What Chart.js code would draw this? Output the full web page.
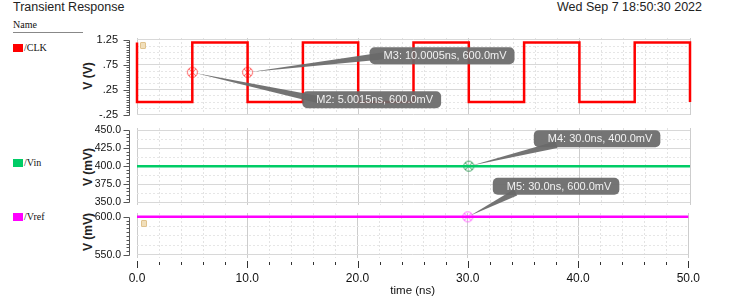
<!DOCTYPE html>
<html>
<head>
<meta charset="utf-8">
<script src="https://cdn.jsdelivr.net/npm/chart.js@4/dist/chart.umd.min.js"></script>
<style>
body { margin: 0; width: 729px; height: 301px; background: #fff; position: relative; overflow: hidden;
       font-family: "Liberation Sans", Arial, sans-serif; color: #222; }
.abs { position: absolute; white-space: nowrap; }
#title { left: 13px; top: 0px; font-size: 12.5px; }
#date { right: 27px; top: 0px; font-size: 12.5px; }
.legend { font-family: "Liberation Serif", "DejaVu Serif", serif; font-size: 10px; color: #111; line-height: 12px; }
.sw { display: inline-block; width: 10px; height: 8px; margin-right: 1px; vertical-align: -1px; }
#nameLine { left: 13px; top: 32px; width: 70px; height: 1px; background: #888; }
.ytitle { transform: translate(-50%, -50%) rotate(-90deg); font-weight: bold; font-size: 12px; }
.lock { width: 4px; height: 5px; background: #f1dfbb; border: 1px solid #e0c38e; border-radius: 1px; }
canvas { position: absolute; }
</style>
</head>
<body>
<div class="abs" id="title">Transient Response</div>
<div class="abs" id="date">Wed Sep 7 18:50:30 2022</div>
<div class="abs legend" style="left:13px;top:19px">Name</div>
<div class="abs" id="nameLine"></div>
<div class="abs legend" style="left:13px;top:42px"><span class="sw" style="background:#ff0000"></span>/CLK</div>
<div class="abs legend" style="left:13px;top:157px"><span class="sw" style="background:#00cc66"></span>/Vin</div>
<div class="abs legend" style="left:13px;top:211px"><span class="sw" style="background:#ff00ff"></span>/Vref</div>
<div class="abs ytitle" style="left:88px;top:76px">V (V)</div>
<div class="abs ytitle" style="left:88px;top:167px">V (mV)</div>
<div class="abs ytitle" style="left:88px;top:232px">V (mV)</div>

<canvas id="clkChart" width="620" height="92" style="left:80px;top:30px"></canvas>
<canvas id="vinChart" width="620" height="92" style="left:80px;top:120px"></canvas>
<canvas id="vrefChart" width="620" height="131" style="left:80px;top:170px"></canvas>
<div class="abs lock" style="left:140px;top:42px"></div>
<div class="abs lock" style="left:141px;top:220px"></div>

<script>
// time axis (ns)
const timeTicks = [0, 10, 20, 30, 40, 50];

// /CLK (V)
const clkTime = [0, 0, 5, 5, 10, 10, 15, 15, 20, 20, 25, 25, 30, 30, 35, 35, 40, 40, 45, 45, 50, 50];
const clkVolt = [1.2, 0, 0, 1.2, 1.2, 0, 0, 1.2, 1.2, 0, 0, 1.2, 1.2, 0, 0, 1.2, 1.2, 0, 0, 1.2, 1.2, 0];
const clkTicks = [-0.25, 0.25, 0.75, 1.25];

// /Vin (mV)
const vinTime = [0, 50];
const vinMv = [400, 400];
const vinTicks = [350, 375, 400, 425, 450];

// /Vref (mV)
const vrefTime = [0, 50];
const vrefMv = [600, 600];
const vrefTicks = [550, 600];

// markers
const markerNames = ['M2', 'M3', 'M4', 'M5'];
const markerTrace = ['CLK', 'CLK', 'Vin', 'Vref'];
const markerTimes = [5.0015, 10.0005, 30.0, 30.0];
const markerMv = [600.0, 600.0, 400.0, 600.0];

// callout box placement relative to the marker: dx, dy, anchor fraction in box
const calloutPos = {
    M2: { dx: 110, dy: 19, ax: 0.12, ay: 0.5 },
    M3: { dx: 122, dy: -25, ax: 0.10, ay: 0.5 },
    M4: { dx: 65, dy: -36, ax: 0.18, ay: 0.85 },
    M5: { dx: 25, dy: -39, ax: 0.18, ay: 0.85 }
};

const near = (v, list) => list.some(t => Math.abs(t - v) < 1e-6);

function range(from, to, step) {
    const out = [];
    for (let i = 0; from + i * step <= to + 1e-9; i++) out.push(+(from + i * step).toFixed(6));
    return out;
}

function markerIcon(color) {
    const c = document.createElement('canvas');
    c.width = 13; c.height = 13;
    const g = c.getContext('2d');
    g.strokeStyle = color; g.lineWidth = 1;
    g.beginPath(); g.arc(6.5, 6.5, 5, 0, Math.PI * 2); g.stroke();
    g.beginPath();
    g.moveTo(3, 3); g.lineTo(10, 10);
    g.moveTo(10, 3); g.lineTo(3, 10);
    g.stroke();
    return c;
}

function fmtTime(t) {
    return Number.isInteger(t) ? t.toFixed(1) : String(t);
}

// minor tick marks left of the plot and under the time axis
const tickMarks = {
    id: 'tickMarks',
    afterDraw(chart, args, opts) {
        const { ctx, chartArea, scales } = chart;
        const y = scales.y;
        ctx.save();
        ctx.strokeStyle = '#555';
        ctx.lineWidth = 1;
        ctx.beginPath();
        const xl = chartArea.left - 7.5;
        ctx.moveTo(xl, Math.round(y.getPixelForValue(opts.yFrom)) + 0.5);
        ctx.lineTo(xl, Math.round(y.getPixelForValue(opts.yTo)) + 0.5);
        range(opts.yFrom, opts.yTo, opts.yMinor).forEach(v => {
            const p = Math.round(y.getPixelForValue(v)) + 0.5;
            const len = near(v, opts.yLabels) ? 6 : 3;
            ctx.moveTo(xl - len, p);
            ctx.lineTo(xl, p);
        });
        ctx.stroke();
        if (opts.xTicks) {
            const x = scales.x;
            ctx.strokeStyle = '#333';
            ctx.beginPath();
            range(0, 50, 2).forEach(v => {
                const p = Math.round(x.getPixelForValue(v)) + 0.5;
                const major = near(v, timeTicks);
                ctx.moveTo(p, chartArea.bottom + (major ? 3 : 4));
                ctx.lineTo(p, chartArea.bottom + (major ? 10 : 7));
            });
            ctx.stroke();
        }
        ctx.restore();
    }
};

// gray marker callouts with pointer
const callouts = {
    id: 'callouts',
    afterDatasetsDraw(chart) {
        const { ctx } = chart;
        chart.data.datasets.forEach((ds, di) => {
            if (!ds.callouts) return;
            const meta = chart.getDatasetMeta(di);
            meta.data.forEach((pt, i) => {
                const text = ds.callouts[i];
                const pos = calloutPos[text.split(':')[0]];
                ctx.save();
                ctx.font = '11px "Liberation Sans", Arial, sans-serif';
                const w = ctx.measureText(text).width + 22;
                const h = 17;
                const bx = pt.x + pos.dx, by = pt.y + pos.dy;
                const axp = bx + w * pos.ax, ayp = by + h * pos.ay;
                const ang = Math.atan2(ayp - pt.y, axp - pt.x);
                const nx = -Math.sin(ang) * 3.5, ny = Math.cos(ang) * 3.5;
                ctx.fillStyle = 'rgba(105,105,105,0.93)';
                ctx.beginPath();
                ctx.moveTo(pt.x + 3 * Math.cos(ang), pt.y + 3 * Math.sin(ang));
                ctx.lineTo(axp + nx, ayp + ny);
                ctx.lineTo(axp - nx, ayp - ny);
                ctx.closePath();
                ctx.fill();
                ctx.beginPath();
                ctx.roundRect(bx, by, w, h, 5);
                ctx.fill();
                ctx.fillStyle = '#f2f2f2';
                ctx.textBaseline = 'middle';
                ctx.fillText(text, bx + 14, by + h / 2 + 0.5);
                ctx.restore();
            });
        });
    }
};

function makePanel(id, o) {
    const marks = markerNames.map((n, i) => i).filter(i => markerTrace[i] === o.trace);
    const gridY = range(o.labels[0], o.labels[o.labels.length - 1], o.gridStep);
    return new Chart(document.getElementById(id), {
        type: 'line',
        data: {
            datasets: [{
                data: o.times.map((t, i) => ({ x: t, y: o.values[i] })),
                borderColor: o.color,
                borderWidth: o.width,
                pointRadius: 0,
                tension: 0,
                clip: 4
            }, {
                data: marks.map(i => ({ x: markerTimes[i], y: markerMv[i] / o.div })),
                showLine: false,
                pointStyle: markerIcon(o.markColor),
                pointRadius: 6,
                callouts: marks.map(i => `${markerNames[i]}: ${fmtTime(markerTimes[i])}ns, ${markerMv[i].toFixed(1)}mV`),
                clip: false
            }]
        },
        options: {
            responsive: false,
            animation: false,
            layout: { padding: { top: o.padTop, bottom: o.xAxis ? 0 : 7, left: 0, right: 10 } },
            plugins: {
                legend: { display: false },
                tooltip: { enabled: false },
                tickMarks: { yFrom: o.labels[0], yTo: o.labels[o.labels.length - 1], yMinor: o.minor, yLabels: o.labels, xTicks: o.xAxis }
            },
            scales: {
                x: {
                    type: 'linear', min: 0, max: 50,
                    afterBuildTicks: s => { s.ticks = range(0, 50, 2).map(v => ({ value: v })); },
                    afterFit: s => { s.height = o.xAxis ? 43 : 0; },
                    border: { display: false, dash: c => near(c.tick.value, timeTicks) ? [] : [2, 2] },
                    grid: {
                        drawTicks: !!o.xAxis,
                        tickLength: 13,
                        tickColor: 'rgba(0,0,0,0)',
                        color: c => near(c.tick.value, timeTicks) ? '#cdcdcd' : '#e3e3e3'
                    },
                    ticks: {
                        display: !!o.xAxis,
                        autoSkip: false,
                        maxRotation: 0,
                        padding: 0,
                        color: '#111',
                        font: { family: '"Liberation Sans", Arial, sans-serif', size: 12 },
                        callback: v => near(v, timeTicks) ? v.toFixed(1) : ''
                    },
                    title: {
                        display: !!o.xAxis,
                        text: 'time (ns)',
                        color: '#111',
                        padding: { top: 0, bottom: 3 },
                        font: { family: '"Liberation Sans", Arial, sans-serif', size: 11.5 }
                    }
                },
                y: {
                    min: o.min, max: o.max,
                    afterBuildTicks: s => { s.ticks = gridY.map(v => ({ value: v })); },
                    afterFit: s => { s.width = 57; },
                    border: { display: false, dash: c => near(c.tick.value, o.labels) ? [] : [2, 2] },
                    grid: {
                        drawTicks: true,
                        tickLength: o.labelGap,
                        tickColor: 'rgba(0,0,0,0)',
                        color: c => near(c.tick.value, o.labels) ? '#d8d8d8' : '#e6e6e6'
                    },
                    ticks: {
                        padding: 0,
                        autoSkip: false,
                        color: '#111',
                        font: { family: '"Liberation Sans", Arial, sans-serif', size: o.labelSize },
                        callback: v => near(v, o.labels) ? o.fmt(v) : ''
                    }
                }
            }
        },
        plugins: [tickMarks, callouts]
    });
}

makePanel('clkChart', {
    trace: 'CLK', times: clkTime, values: clkVolt, color: '#ff0000', width: 2.5, markColor: '#ff5a5a',
    div: 1000, min: -0.26, max: 1.29, labels: clkTicks, gridStep: 0.125, minor: 0.05, padTop: 8,
    labelGap: 19, labelSize: 11,
    fmt: v => v.toFixed(2).replace(/^(-?)0\./, '$1.')
});
makePanel('vinChart', {
    trace: 'Vin', times: vinTime, values: vinMv, color: '#00cc66', width: 2.5, markColor: '#2e9a55',
    div: 1, min: 346, max: 453, labels: vinTicks, gridStep: 12.5, minor: 5, padTop: 8,
    labelGap: 16, labelSize: 10.5,
    fmt: v => v.toFixed(1)
});
makePanel('vrefChart', {
    trace: 'Vref', times: vrefTime, values: vrefMv, color: '#ff00ff', width: 2.5, markColor: '#ff66ff',
    div: 1, min: 546, max: 605, labels: vrefTicks, gridStep: 12.5, minor: 5, padTop: 43, xAxis: true,
    labelGap: 16, labelSize: 10.5,
    fmt: v => v.toFixed(1)
});
</script>
</body>
</html>
